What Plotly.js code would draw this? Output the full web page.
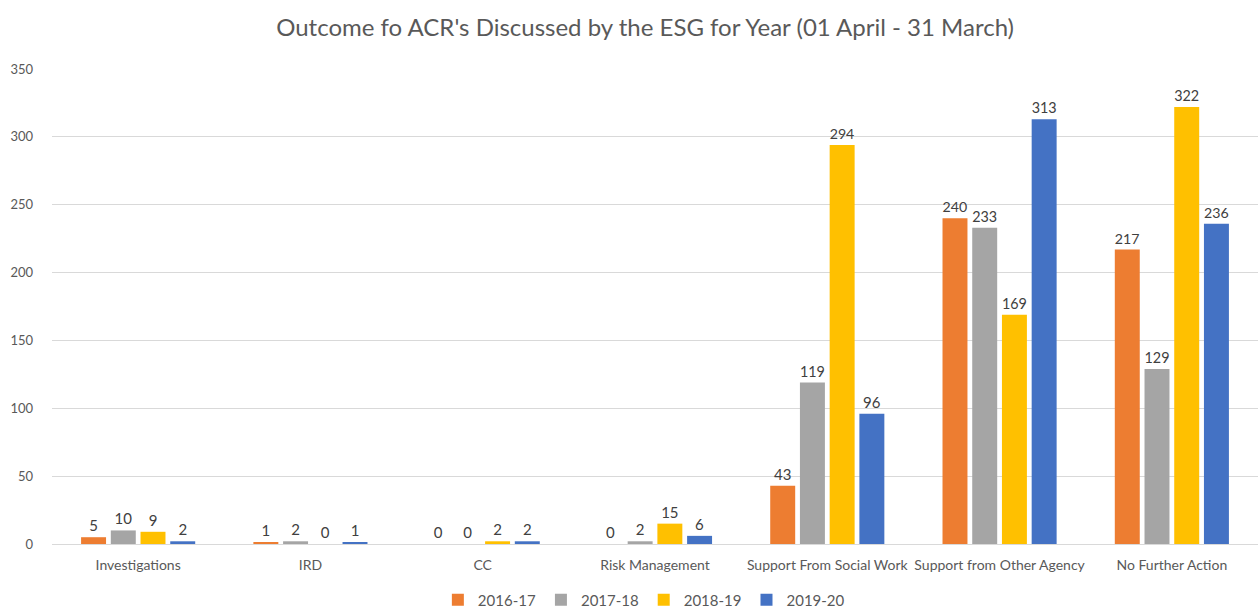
<!DOCTYPE html>
<html>
<head>
<meta charset="utf-8">
<script src="https://cdn.plot.ly/plotly-3.0.1.min.js"></script>
<style>html,body{margin:0;padding:0;background:#fff;}#chart{width:1260px;height:608px;}</style>
</head>
<body>
<div id="chart"></div>
<script>
const categories = ["Investigations", "IRD", "CC", "Risk Management", "Support From Social Work", "Support from Other Agency", "No Further Action"];
const seriesNames = ["2016-17", "2017-18", "2018-19", "2019-20"];
const v2016_17 = [5, 1, 0, 0, 43, 240, 217];
const v2017_18 = [10, 2, 0, 2, 119, 233, 129];
const v2018_19 = [9, 0, 2, 15, 294, 169, 322];
const v2019_20 = [2, 1, 2, 6, 96, 313, 236];
const colors = ["#ED7D31", "#A5A5A5", "#FFC000", "#4472C4"];
const allValues = [v2016_17, v2017_18, v2018_19, v2019_20];

const font = "Lato, 'Liberation Sans', sans-serif";
const traces = allValues.map((vals, i) => ({
  type: "bar",
  name: seriesNames[i],
  x: categories,
  y: vals,
  text: vals.map(String),
  textposition: "outside",
  cliponaxis: false,
  textfont: {family: font, size: 15, color: "#404040"},
  marker: {color: colors[i]},
  hoverinfo: "x+y+name"
}));

const layout = {
  width: 1260, height: 608,
  paper_bgcolor: "#fff", plot_bgcolor: "#fff",
  margin: {l: 52, r: 2, t: 69, b: 64},
  title: {text: "Outcome fo ACR's Discussed by the ESG for Year (01 April - 31 March)",
          font: {family: font, size: 24, color: "#595959"}, x: 0.512, xanchor: "center", y: 0.955, yanchor: "middle"},
  barmode: "group",
  bargap: 0.31,
  bargroupgap: 0.16,
  showlegend: true,
  legend: {orientation: "h", xref: "container", yref: "container", x: 0.511, xanchor: "center", y: 0.013, yanchor: "middle",
           font: {family: font, size: 15, color: "#595959"}, traceorder: "normal", itemwidth: 30},
  xaxis: {type: "category", showgrid: false, showline: false, ticks: "",
          ticklabelstandoff: 11,
          tickfont: {family: font, size: 14, color: "#595959"}, automargin: false},
  yaxis: {range: [0, 350], dtick: 50, showgrid: true, gridcolor: "#D9D9D9", gridwidth: 1,
          zeroline: true, zerolinecolor: "#D9D9D9", zerolinewidth: 1, showline: false, ticks: "",
          ticklabelstandoff: 18,
          tickfont: {family: font, size: 13, color: "#595959"}, automargin: false}
};

Plotly.newPlot("chart", traces, layout, {displayModeBar: false, responsive: false});
</script>
</body>
</html>
